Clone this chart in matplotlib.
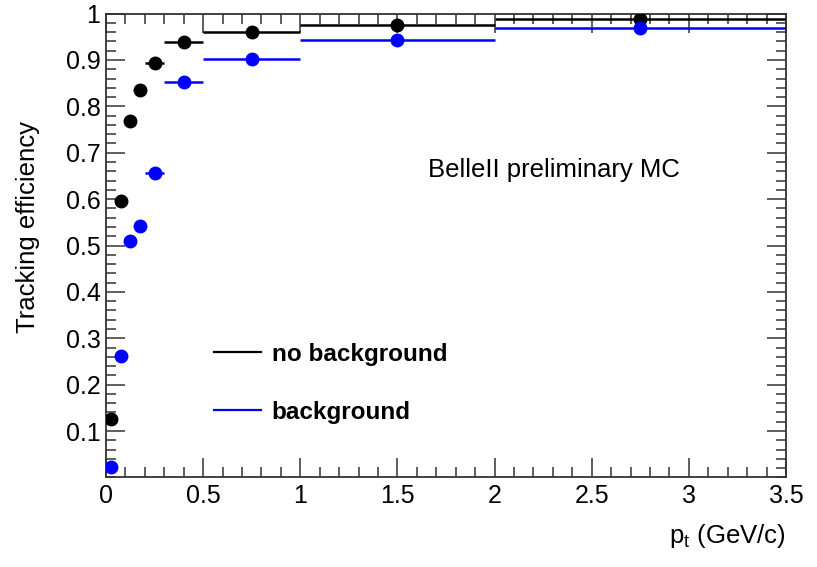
import numpy as np
import matplotlib
matplotlib.use("Agg")
import matplotlib.pyplot as plt
from matplotlib.lines import Line2D
from matplotlib.ticker import MultipleLocator

# pt bins (GeV/c)
bin_lo = [0.0, 0.05, 0.10, 0.15, 0.20, 0.30, 0.50, 1.00, 2.00]
bin_hi = [0.05, 0.10, 0.15, 0.20, 0.30, 0.50, 1.00, 2.00, 3.50]

eff_nobkg = [0.127, 0.595, 0.768, 0.835, 0.893, 0.938, 0.960, 0.976, 0.988]
eff_bkg = [0.023, 0.262, 0.510, 0.541, 0.657, 0.853, 0.902, 0.943, 0.968]

labels = ["no background", "background"]
colors = ["black", "#0000ff"]

x_ticks = [0, 0.5, 1, 1.5, 2, 2.5, 3, 3.5]
x_ticklabels = ["0", "0.5", "1", "1.5", "2", "2.5", "3", "3.5"]
y_ticks = [0.1, 0.2, 0.3, 0.4, 0.5, 0.6, 0.7, 0.8, 0.9, 1.0]
y_ticklabels = ["0.1", "0.2", "0.3", "0.4", "0.5", "0.6", "0.7", "0.8", "0.9", "1"]

plt.rcParams["font.family"] = ["Liberation Sans", "DejaVu Sans"]


def main():
    lo = np.array(bin_lo)
    hi = np.array(bin_hi)
    centers = 0.5 * (lo + hi)
    half = 0.5 * (hi - lo)

    fig = plt.figure(figsize=(8.17, 5.67), dpi=100)
    ax = fig.add_axes([0.1297, 0.158, 0.8323, 0.818])

    for vals, c in zip([eff_nobkg, eff_bkg], colors):
        ax.errorbar(centers, vals, xerr=half, fmt="o", color=c, ms=9,
                    elinewidth=1.8, capsize=0, zorder=3)

    ax.set_xlim(0, 3.5)
    ax.set_ylim(0, 1)
    ax.set_xticks(x_ticks)
    ax.set_xticklabels(x_ticklabels)
    ax.set_yticks(y_ticks)
    ax.set_yticklabels(y_ticklabels)
    ax.xaxis.set_minor_locator(MultipleLocator(0.1))
    ax.yaxis.set_minor_locator(MultipleLocator(0.02))

    ax.tick_params(which="both", direction="in", top=True, right=True,
                   labelsize=18, width=1.1, color="#333333")
    ax.tick_params(which="major", length=14)
    ax.tick_params(which="minor", length=7)
    ax.tick_params(axis="y", which="major", pad=4)
    ax.tick_params(axis="x", which="major", pad=5)
    for s in ax.spines.values():
        s.set_linewidth(1.3)
        s.set_color("#333333")

    ax.set_ylabel("Tracking efficiency", fontsize=18.5)
    ax.yaxis.set_label_coords(-0.097, 0.54)
    fig.text(0.962, 0.03, r"p$_\mathregular{t}$ (GeV/c)", fontsize=18.5,
             ha="right", va="bottom")

    ax.text(0.474, 0.663, "BelleII preliminary MC", fontsize=18.5,
            transform=ax.transAxes, va="center", ha="left")

    handles = [Line2D([], [], color=c, lw=1.6) for c in colors]
    ax.legend(handles, labels, loc="upper left", bbox_to_anchor=(0.141, 0.316),
              frameon=False, prop={"weight": "bold", "size": 17.5},
              handlelength=1.93, handletextpad=0.45, labelspacing=1.42,
              borderpad=0)

    plt.savefig("out.png", dpi=100)
    plt.close()


if __name__ == "__main__":
    main()
